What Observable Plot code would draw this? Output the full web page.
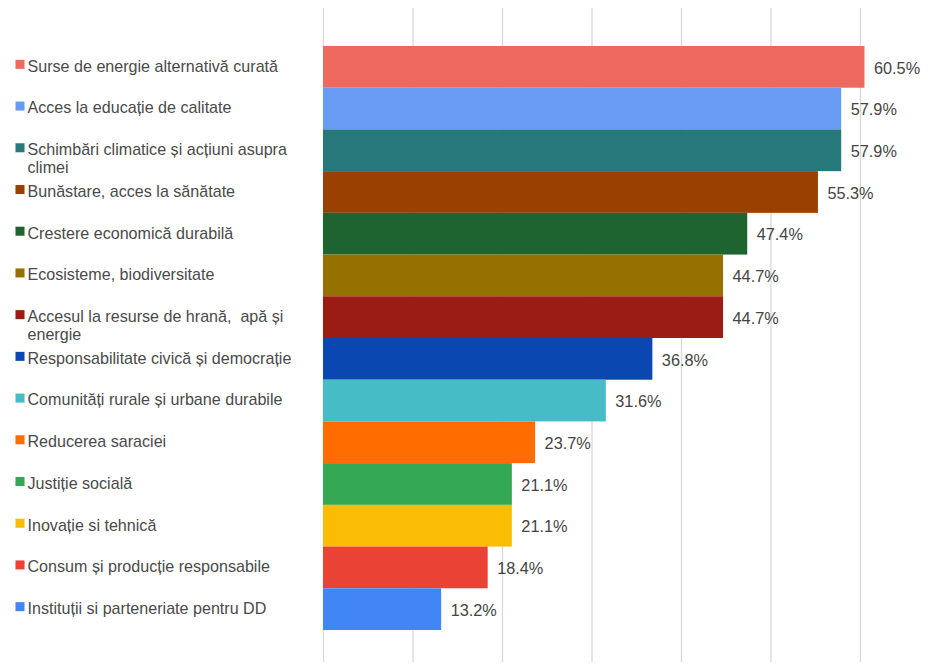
<!DOCTYPE html>
<html>
<head>
<meta charset="utf-8">
<script src="https://cdn.jsdelivr.net/npm/d3@7"></script>
<script src="https://cdn.jsdelivr.net/npm/@observablehq/plot@0.6"></script>
<style>
  html, body { margin: 0; padding: 0; background: #fff; }
  #chart svg { display: block; }
</style>
</head>
<body>
<div id="chart"></div>
<script>
const categories = [
  "Surse de energie alternativă curată",
  "Acces la educație de calitate",
  "Schimbări climatice și acțiuni asupra\nclimei",
  "Bunăstare, acces la sănătate",
  "Crestere economică durabilă",
  "Ecosisteme, biodiversitate",
  "Accesul la resurse de hrană,  apă și\nenergie",
  "Responsabilitate civică și democrație",
  "Comunități rurale și urbane durabile",
  "Reducerea saraciei",
  "Justiție socială",
  "Inovație si tehnică",
  "Consum și producție responsabile",
  "Instituții si parteneriate pentru DD"
];
const values = [60.5, 57.9, 57.9, 55.3, 47.4, 44.7, 44.7, 36.8, 31.6, 23.7, 21.1, 21.1, 18.4, 13.2];
const palette = [
  "#ee6a5f", "#679cf2", "#26787b", "#9a4000", "#1e6431", "#957100", "#9b1c14",
  "#0b47b0", "#46bdc6", "#ff6d01", "#34a853", "#fbbc04", "#ea4335", "#4285f4"
];
const xTicks = [0, 10, 20, 30, 40, 50, 60];

const data = categories.map((c, i) => ({label: c, value: values[i], color: palette[i]}));

const chart = Plot.plot({
  width: 939,
  height: 666,
  marginLeft: 323,
  marginRight: 79,
  marginTop: 8,
  marginBottom: 4,
  style: {fontFamily: "'Liberation Sans', Arial, sans-serif", fontSize: "16px", background: "#fff"},
  x: {domain: [0, 60], axis: null},
  y: {domain: categories, range: [46, 630], padding: 0, round: false, axis: null},
  color: {type: "identity"},
  marks: [
    Plot.gridX(xTicks, {stroke: "#d9d9d9", strokeOpacity: 1, strokeWidth: 1.3}),
    Plot.barX(data, {x: "value", y: "label", fill: "color"}),
    Plot.text(data, {
      x: "value", y: "label",
      text: d => d.value.toFixed(1) + "%",
      textAnchor: "start", dx: 9, dy: 1,
      fill: "#444", fontSize: 16.3
    }),
    Plot.dot(data, {
      y: "label", frameAnchor: "left", dx: -303.5, dy: -3,
      symbol: "square", r: 5.1, fill: "color", stroke: null
    }),
    Plot.text(data, {
      y: "label", frameAnchor: "left", dx: -296, dy: -8.5,
      text: "label", textAnchor: "start", lineAnchor: "top", lineHeight: 1.12,
      fill: "#4a4a4a", fontSize: 16.1
    })
  ]
});
document.getElementById("chart").appendChild(chart);
</script>
</body>
</html>
